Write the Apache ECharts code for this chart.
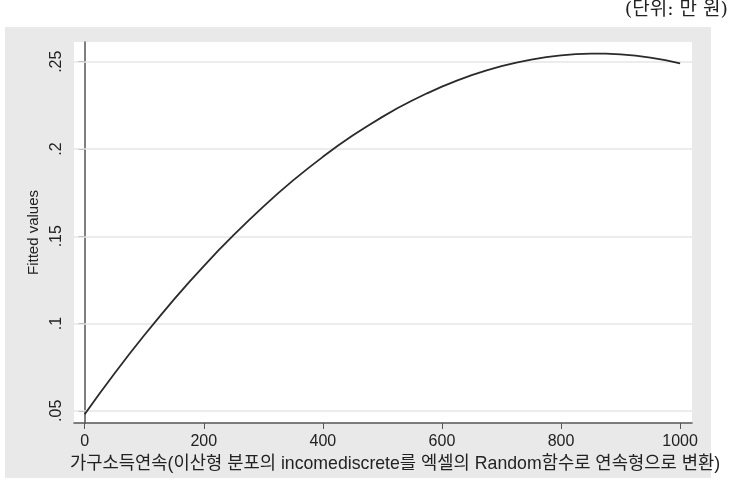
<!DOCTYPE html>
<html>
<head>
<meta charset="utf-8">
<script src="https://cdn.jsdelivr.net/npm/echarts@6/dist/echarts.min.js"></script>
<style>
  html, body { margin: 0; padding: 0; background: #fff; }
  #chart_fit { width: 732px; height: 488px; }
</style>
</head>
<body>
<div id="chart_fit"></div>
<script>
// valores
const incomeX = [0, 25, 50, 75, 100, 125, 150, 175, 200, 225, 250, 275, 300, 325, 350, 375,
                 400, 425, 450, 475, 500, 525, 550, 575, 600, 625, 650, 675, 700, 725,
                 750, 775, 800, 825, 850, 875, 900, 925, 950, 975, 1000];
const fittedY = [0.0480, 0.0599, 0.0714, 0.0825, 0.0933, 0.1037, 0.1138, 0.1236, 0.1329, 0.1420,
                 0.1507, 0.1590, 0.1670, 0.1747, 0.1820, 0.1889, 0.1955, 0.2018, 0.2077, 0.2132,
                 0.2184, 0.2233, 0.2278, 0.2319, 0.2357, 0.2392, 0.2423, 0.2451, 0.2475, 0.2495,
                 0.2512, 0.2526, 0.2536, 0.2543, 0.2546, 0.2546, 0.2542, 0.2535, 0.2523, 0.2509,
                 0.2491];
const xTicks = [0, 200, 400, 600, 800, 1000];
const yTicks = [0.05, 0.1, 0.15, 0.2, 0.25];

const fontTxt = 'Liberation Sans, Arial, Noto Sans CJK KR, sans-serif';

let chart = echarts.init(document.getElementById('chart_fit'));
chart.setOption({
    animation: false,
    graphic: [
        // panel gris de fondo
        { type: 'rect', z: -10, shape: { x: 5, y: 27, width: 706, height: 451 },
          style: { fill: '#e9e9e9' } },
        { type: 'text', right: 4, top: 1,
          style: { text: '(단위: 만 원)', fontSize: 19, fill: '#222',
                   fontFamily: 'DejaVu Serif, Noto Sans CJK KR, serif' } }
    ],
    grid: { left: 74, right: 40, top: 42, bottom: 65, show: true,
            backgroundColor: '#ffffff', borderWidth: 0 },
    xAxis: {
        type: 'value', min: -18, max: 1020,
        name: '가구소득연속(이산형 분포의 incomediscrete를 엑셀의 Random함수로 연속형으로 변환)',
        nameLocation: 'middle', nameGap: 30,
        nameTextStyle: { fontSize: 17.7, color: '#222', fontFamily: fontTxt, padding: [0, 0, 0, 24] },
        axisLine: { lineStyle: { color: '#555', width: 1.5 } },
        axisTick: { show: true, length: 6, customValues: xTicks, lineStyle: { color: '#555' } },
        axisLabel: { customValues: xTicks, fontSize: 16, color: '#222', margin: 11,
                     fontFamily: fontTxt, formatter: v => String(v) },
        splitLine: { show: false }
    },
    yAxis: {
        type: 'value', min: 0.043, max: 0.2613,
        name: 'Fitted values', nameLocation: 'middle', nameGap: 33, nameRotate: 90,
        nameTextStyle: { fontSize: 15, color: '#222', fontFamily: fontTxt },
        axisLine: { show: true, lineStyle: { color: '#555', width: 1.5 } },
        axisTick: { show: true, length: 6, customValues: yTicks, lineStyle: { color: '#555' } },
        axisLabel: { customValues: yTicks, rotate: 90, fontSize: 16, color: '#222', margin: 9,
                     fontFamily: fontTxt,
                     formatter: v => String(+v.toFixed(2)).replace(/^0/, '') },
        splitLine: { show: false }
    },
    series: [
        {
            // lineas de cuadricula
            type: 'line', data: [], z: 1,
            markLine: {
                silent: true, symbol: 'none', label: { show: false },
                lineStyle: { color: '#e6e6e6', type: 'solid', width: 1.5 },
                data: yTicks.map(v => ({ yAxis: v }))
            }
        },
        {
            type: 'line', z: 5,
            data: incomeX.map((x, i) => [x, fittedY[i]]),
            showSymbol: false,
            lineStyle: { color: '#2a2a2a', width: 1.8 }
        }
    ]
});
</script>
</body>
</html>
